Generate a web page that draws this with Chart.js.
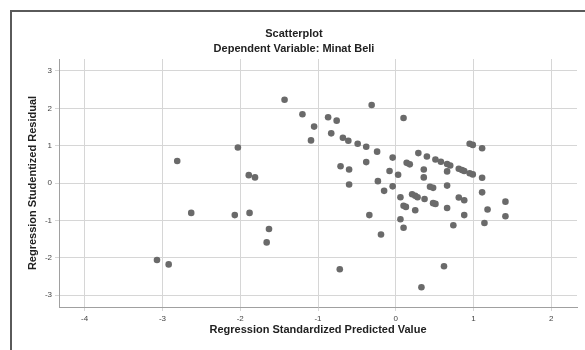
<!DOCTYPE html>
<html>
<head>
<meta charset="utf-8">
<script src="https://cdn.jsdelivr.net/npm/chart.js@4"></script>
<style>
  html, body { margin: 0; padding: 0; background: #fff; }
  #wrap { width: 585px; height: 350px; }
</style>
</head>
<body>
<div id="wrap"><canvas id="chart" width="585" height="350"></canvas></div>
<script>
const titleText = "Scatterplot";
const subtitleText = "Dependent Variable: Minat Beli";
const xLabel = "Regression Standardized Predicted Value";
const yLabel = "Regression Studentized Residual";

const xTicks = [-4, -3, -2, -1, 0, 1, 2];
const yTicks = [-3, -2, -1, 0, 1, 2, 3];

// standardized predicted value (x) and studentized residual (y)
const predicted = [
  -3.07, -2.92, -2.81, -2.63, -2.07, -2.03, -1.89, -1.81, -1.88, -1.63, -1.66, -1.43,
  -1.20, -1.05, -1.09, -0.87, -0.76, -0.83, -0.68, -0.61, -0.49, -0.38, -0.31, -0.24,
  -0.04, -0.38, -0.71, -0.60, -0.60, -0.08, 0.03, -0.23, -0.04, -0.15, 0.10, -0.34,
  -0.19, -0.72, 0.62, 0.33,
  0.14, 0.18, 0.29, 0.40, 0.51, 0.58, 0.66, 0.70, 0.36, 0.36, 0.66, 0.81, 0.85, 0.88,
  0.95, 0.99, 0.95, 0.99, 1.11, 1.11, 1.11, 1.18, 1.14, 0.66, 0.44, 0.48, 0.21, 0.25,
  0.28, 0.37, 0.48, 0.51, 0.66, 0.81, 0.88, 0.88, 0.06, 0.10, 0.13, 0.25, 0.74, 0.06,
  0.10, 1.41, 1.41
];
const residual = [
  -2.06, -2.18, 0.59, -0.80, -0.86, 0.95, 0.21, 0.15, -0.80, -1.23, -1.59, 2.23,
  1.84, 1.51, 1.14, 1.76, 1.67, 1.33, 1.21, 1.13, 1.05, 0.97, 2.09, 0.84,
  0.68, 0.56, 0.45, 0.36, -0.04, 0.32, 0.22, 0.05, -0.09, -0.21, 1.74, -0.86,
  -1.38, -2.31, -2.23, -2.79,
  0.54, 0.50, 0.80, 0.71, 0.63, 0.57, 0.51, 0.47, 0.36, 0.15, 0.31, 0.38, 0.35, 0.32,
  0.26, 0.23, 1.05, 1.02, 0.93, 0.14, -0.25, -0.71, -1.07, -0.07, -0.10, -0.13, -0.30, -0.34,
  -0.38, -0.43, -0.54, -0.56, -0.67, -0.39, -0.46, -0.86, -0.38, -0.61, -0.64, -0.73, -1.13, -0.97,
  -1.20, -0.50, -0.89
];

const points = predicted.map((x, i) => ({ x: x, y: residual[i] }));

const FONT = "'Liberation Sans', Arial, sans-serif";

// outer frame and the two title lines
const framePlugin = {
  id: "frame",
  beforeDraw(chart) {
    const ctx = chart.ctx;
    ctx.save();
    ctx.fillStyle = "#fff";
    ctx.fillRect(0, 0, chart.width, chart.height);
    ctx.strokeStyle = "#5a5a5a";
    ctx.lineWidth = 2;
    ctx.strokeRect(11, 11, chart.width + 10, chart.height + 10);
    ctx.restore();
  },
  afterDraw(chart) {
    const ctx = chart.ctx;
    ctx.save();
    ctx.fillStyle = "#222";
    ctx.textAlign = "center";
    ctx.textBaseline = "middle";
    ctx.font = "bold 11px " + FONT;
    ctx.fillText(titleText, 294, 34);
    ctx.fillText(subtitleText, 294, 49);
    ctx.restore();
  }
};

new Chart(document.getElementById("chart"), {
  type: "scatter",
  data: {
    datasets: [{
      data: points,
      backgroundColor: "#6a6a6a",
      borderWidth: 0,
      pointRadius: 3.3,
      pointHoverRadius: 3.3
    }]
  },
  options: {
    responsive: false,
    animation: false,
    layout: { padding: { left: 12, right: 8, top: 59, bottom: 8 } },
    plugins: {
      legend: { display: false },
      tooltip: { enabled: false }
    },
    scales: {
      x: {
        type: "linear",
        min: -4.33,
        max: 2.33,
        afterBuildTicks: s => { s.ticks = xTicks.map(v => ({ value: v })); },
        afterFit: s => { s.height = 35; },
        grid: { color: "#d6d6d6", lineWidth: 1, tickLength: 4 },
        border: { color: "#a0a0a0", width: 1 },
        ticks: { font: { family: FONT, size: 8 }, color: "#444", padding: 3, maxRotation: 0 },
        title: {
          display: true, text: xLabel, color: "#222",
          font: { family: FONT, size: 11, weight: "bold" },
          padding: { top: 0, bottom: 5 }
        }
      },
      y: {
        type: "linear",
        min: -3.32,
        max: 3.32,
        afterBuildTicks: s => { s.ticks = yTicks.map(v => ({ value: v })); },
        afterFit: s => { s.width = 47; },
        grid: { color: "#d6d6d6", lineWidth: 1, tickLength: 4 },
        border: { color: "#a0a0a0", width: 1 },
        ticks: { font: { family: FONT, size: 8 }, color: "#444", padding: 3 },
        title: {
          display: true, text: yLabel, color: "#222",
          font: { family: FONT, size: 11, weight: "bold" },
          padding: { top: 14, bottom: 0 }
        }
      }
    }
  },
  plugins: [framePlugin]
});
</script>
</body>
</html>
